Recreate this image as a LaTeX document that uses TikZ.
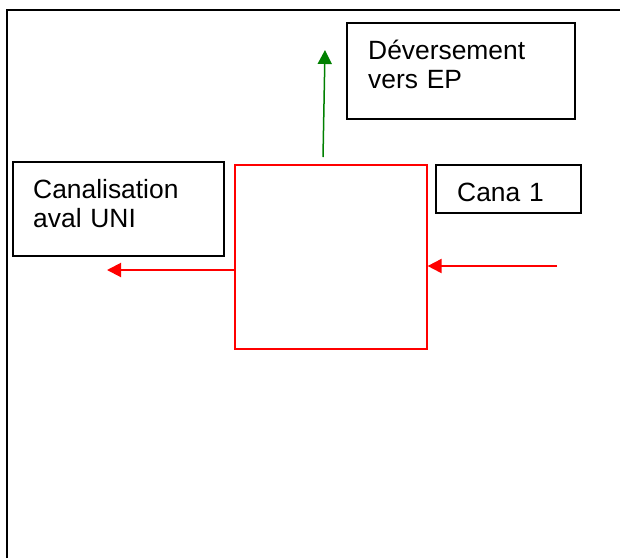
\documentclass[tikz,border=0pt]{standalone}
\usepackage{fontspec}
\setmainfont{Liberation Sans}
\usetikzlibrary{arrows.meta,positioning,calc}

\tikzset{
  boite/.style={draw, line width=1.8pt, anchor=north west, inner sep=0pt},
  texte/.style={anchor=base west, inner sep=0pt, align=left, text width=#1,
    font=\fontsize{26.4}{29.5}\selectfont},
  fleche/.style={line width=2pt, -{Triangle[length=14pt,width=14pt]}}
}

\begin{document}
\begin{tikzpicture}[x=1pt,y=-1pt]
				\useasboundingbox (0,0) rectangle (620,558);
				\draw [line width=2.5pt] (7,558) -- (7,10) -- (620,10);

				% boites de texte
				\node [boite, minimum width=228pt, minimum height=96pt] (deversement) at (346,22) {};
				\node [boite, minimum width=211pt, minimum height=94pt] (aval) at (12,161) {};
				\node [boite, minimum width=145pt, minimum height=48pt] (cana) at (435,164) {};

				\node [texte=186pt] (deversementtxt) at ($(deversement.north west)+(22,37)$) {D\'eversement\\vers EP};
				\node [texte=169pt] (avaltxt) at ($(aval.north west)+(21,37)$) {Canalisation\\aval UNI};
				\node [texte=103pt] (canatxt) at ($(cana.north west)+(22,37.5)$) {Cana 1};

				% ouvrage
				\node [draw=red, line width=1.6pt, anchor=north west, minimum width=192pt, minimum height=184pt, inner sep=0pt] (ouvrage) at (234,164) {};

				\coordinate (sortie) at (107,270);
				\coordinate (entree) at (557,266);
				\coordinate (depart) at (323,157);
				\coordinate (haut) at (325,50);

				\draw [fleche, red] (ouvrage.west |- sortie) -- (sortie);
				\draw [fleche, red] (entree) -- (ouvrage.east |- entree);
				\draw [fleche, green!50!black, line width=1.5pt] (depart) -- (haut);
		\end{tikzpicture}
\end{document}
